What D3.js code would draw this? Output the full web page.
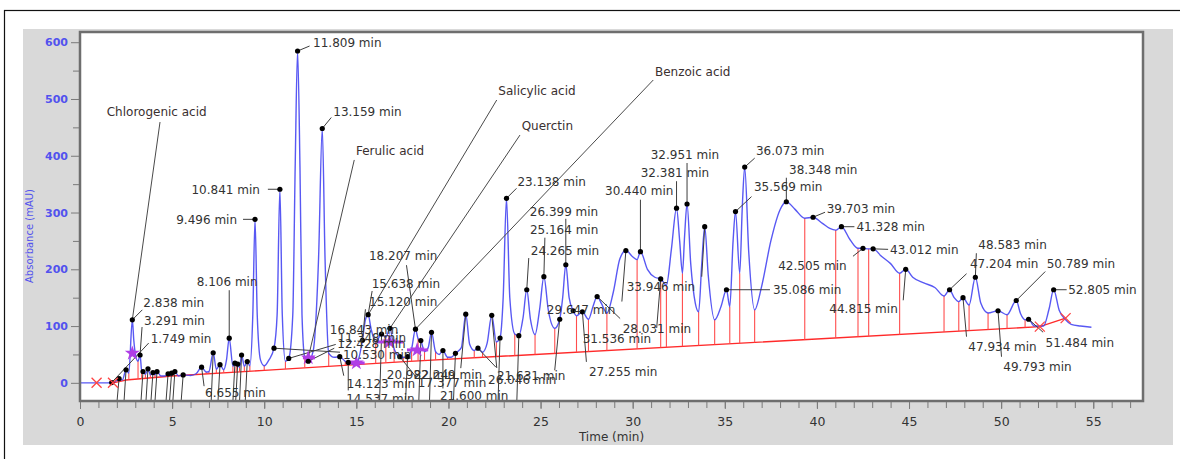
<!DOCTYPE html>
<html>
<head>
<meta charset="utf-8">
<script src="https://cdn.jsdelivr.net/npm/d3@7"></script>
<style>
  body { margin: 0; background: #fff; }
  svg text { font-family: "DejaVu Sans", sans-serif; }
</style>
</head>
<body>
<div id="chart"></div>
<script>
// ---- data: [time (min), absorbance (mAU)] ----
const trace = [
  [0,0],[1.5,0],[1.72,0.5],[1.9,2],[2.12,7.6],[2.3,5],[2.5,23],[2.65,17],[2.84,111],[2.92,75],[3.0,52],[3.15,38],
  [3.26,49],[3.35,21],[3.42,20],[3.55,15],[3.69,24.6],[3.82,14],[3.96,18],[4.07,14],[4.18,19.9],[4.4,12],[4.6,12],
  [4.78,15.8],[4.88,13],[4.97,17],[5.06,15],[5.15,20],[5.35,12],[5.6,14],[6.0,13],[6.3,16],[6.6,27.6],[6.85,19],
  [7.0,20],[7.23,53],[7.4,24],[7.6,32],[7.8,23],[7.95,40],[8.1,78.6],[8.3,29],[8.41,34.6],[8.48,30],[8.56,33],
  [8.66,27],[8.77,49],[8.92,29],[9.08,37.5],[9.22,30],[9.38,120],[9.5,288],[9.62,120],[9.8,40],[10.0,30],[10.25,40],
  [10.53,61],[10.7,120],[10.85,341],[10.98,120],[11.15,38],[11.33,43],[11.55,120],[11.68,380],[11.81,584.5],
  [11.94,380],[12.05,120],[12.2,45],[12.39,38],[12.65,55],[12.95,220],[13.15,448],[13.3,220],[13.5,52],[13.8,45],
  [14.1,46],[14.4,38],[14.56,36],[14.8,33],[15.0,32],[15.15,45],[15.33,75],[15.5,112],[15.64,120],[15.8,95],
  [16.05,72],[16.37,86],[16.6,80],[16.82,96],[17.05,60],[17.36,46],[17.55,45],[17.78,46],[18.0,60],[18.21,94.5],
  [18.35,78],[18.5,74.5],[18.7,55],[18.9,62],[19.08,89],[19.3,55],[19.5,50],[19.7,57],[19.95,45],[20.15,45],
  [20.38,52],[20.7,62],[20.94,121],[21.15,68],[21.4,57],[21.6,61],[21.85,54],[22.1,70],[22.35,119],[22.6,72],
  [22.8,79],[22.97,150],[23.15,325],[23.33,150],[23.6,86],[23.82,83],[24.05,115],[24.25,164],[24.45,112],[24.7,85],
  [24.95,130],[25.18,187],[25.42,128],[25.77,96],[26.04,112],[26.2,150],[26.37,208],[26.55,150],[26.77,127],
  [26.95,118],[27.27,125],[27.6,112],[27.85,135],[28.07,152],[28.3,140],[28.6,123],[28.95,160],[29.3,218],
  [29.63,233],[30.0,222],[30.24,217],[30.42,231],[30.8,200],[31.2,186],[31.52,183],[31.83,172],[32.1,235],
  [32.38,307.6],[32.55,250],[32.7,193],[32.82,260],[32.95,315],[33.15,210],[33.4,140],[33.58,125],[33.75,210],
  [33.91,275],[34.1,190],[34.45,111],[34.8,135],[35.09,164],[35.27,134],[35.45,250],[35.58,301.6],[35.81,193],
  [35.95,310],[36.08,380],[36.3,230],[36.62,128.5],[37.0,170],[37.5,250],[38.0,305],[38.34,319],[38.8,306],
  [39.34,290],[39.79,291.7],[40.3,281],[40.7,272],[41.02,269],[41.33,275],[41.8,252],[42.23,237],[42.5,237],
  [42.81,236],[43.05,236],[43.5,223],[44.0,210],[44.49,193],[44.82,200],[45.2,186],[45.8,176],[46.4,168],
  [46.9,153],[47.2,164],[47.45,150],[47.7,143],[47.93,150],[48.26,137],[48.6,186],[48.9,140],[49.29,123],
  [49.83,127],[50.32,120],[50.82,145],[51.05,122],[51.3,111],[51.49,112],[51.8,100],[52.3,100],[52.6,130],
  [52.85,164],[53.15,128],[53.5,111],[53.8,103],[54.3,100],[54.9,98]
];

// integration baseline (red) and the marks where it starts / ends
const baseline = [[1.79,0],[2.5,5],[5,12],[10,22],[17.4,37],[39,75.5],[52.1,99],[53.5,114]];
const baseMarks = [[0.9,0],[1.79,0],[52.1,99],[53.5,114]];

// times of the red drop lines (peak boundaries)
const dropTimes = [2.3,2.65,3.15,3.35,3.55,3.82,4.07,4.4,4.88,5.06,5.35,6.85,7.0,7.4,7.8,8.3,8.48,8.66,8.92,9.22,
  10.0,11.15,12.2,13.5,14.4,14.8,16.05,16.6,17.05,17.55,18.0,18.35,18.7,19.3,19.95,21.4,21.85,22.6,23.6,24.7,
  25.77,26.95,27.6,28.6,30.24,31.52,31.83,32.7,33.58,34.45,35.27,35.81,36.62,39.34,41.02,42.23,42.81,44.49,46.9,
  47.7,48.26,49.29,50.32,51.3];

// labelled peaks: [time, absorbance, label]
const peaks = [
  [1.72,0.5,"1.749 min"],[2.84,111,"2.838 min"],[3.26,49,"3.291 min"],[6.6,27.6,"6.655 min"],[8.1,78.6,"8.106 min"],
  [9.5,288,"9.496 min"],[10.53,61,"10.530 min"],[10.85,341,"10.841 min"],[11.33,43,"11.348 min"],
  [11.81,584.5,"11.809 min"],[12.39,38,"12.428 min"],[13.15,448,"13.159 min"],[14.1,46,"14.123 min"],
  [14.56,36,"14.537 min"],[15.33,75,"15.120 min"],[15.64,120,"15.638 min"],[16.82,96,"16.843 min"],
  [17.36,46,"17.377 min"],[18.21,94.5,"18.207 min"],[20.94,121,"20.982 min"],[19.7,57,"21.600 min"],
  [21.6,61,"21.631 min"],[22.35,119,"22.249 min"],[23.15,325,"23.138 min"],[24.25,164,"24.265 min"],
  [25.18,187,"25.164 min"],[26.04,112,"26.046 min"],[26.37,208,"26.399 min"],[27.27,125,"27.255 min"],
  [28.07,152,"28.031 min"],[29.63,233,"29.647 min"],[30.42,231,"30.440 min"],[31.52,183,"31.536 min"],
  [32.38,307.6,"32.381 min"],[32.95,315,"32.951 min"],[33.91,275,"33.946 min"],[35.09,164,"35.086 min"],
  [35.58,301.6,"35.569 min"],[36.08,380,"36.073 min"],[38.34,319,"38.348 min"],[39.79,291.7,"39.703 min"],
  [41.33,275,"41.328 min"],[42.5,237,"42.505 min"],[43.05,236,"43.012 min"],[44.82,200,"44.815 min"],
  [47.2,164,"47.204 min"],[47.93,150,"47.934 min"],[48.6,186,"48.583 min"],[49.83,127,"49.793 min"],
  [50.82,145,"50.789 min"],[51.49,112,"51.484 min"],[52.85,164,"52.805 min"]
];

// small peaks whose labels fall below the plot
const minorPeaks = [[2.12,7.6],[2.5,23],[3.42,20],[3.69,24.6],[3.96,18],[4.18,19.9],[4.78,15.8],[4.97,17],
  [5.15,20],[5.6,14],[7.23,53],[7.6,32],[8.41,34.6],[8.56,33],[8.77,49],[9.08,37.5],[16.37,86],[17.78,46],
  [18.5,74.5],[19.08,89],[20.38,52],[22.8,79],[23.82,83],[26.77,127]];

// identified compounds: [name, time, absorbance of the marked point]
const compounds = [
  ["Chlorogenic acid",2.84,111],["Ferulic acid",12.39,44],["Salicylic acid",15.64,120],
  ["Querctin",16.82,96],["Benzoic acid",18.21,94.5]
];

// purple identification markers: [time, absorbance, bar start, bar end]
const stars = [[2.84,52,2.84,2.84],[12.39,44,12.1,12.75],[15.0,35,14.7,15.45],[16.8,72,16.1,17.55],[18.3,58,17.75,18.9]];

const xMajor = d3.range(0, 56, 5);
const xMinor = d3.range(0, 58, 1);
const yMajor = d3.range(0, 601, 100);
const yMinor = d3.range(50, 600, 100);

// ---- label layout: [dx, dy, leader dx, leader dy, anchor] in px from the dot ----
const labelPos = {
  "1.749 min":[39,-43.5,37,-39.5],"2.838 min":[11,-17,10,-10],"3.291 min":[4,-34,2,-28],"6.655 min":[3.5,26,2.5,19],
  "8.106 min":[-32.5,-56,0,-48],"9.496 min":[-18,0.5,-12,0,"end"],"10.530 min":[69,7,66,4],
  "10.841 min":[-20,0.5,-12,0,"end"],"11.348 min":[49,-21,47,-14],"11.809 min":[15.5,-8.7,12,-5],
  "12.428 min":[29,-17,26,-13],"13.159 min":[11,-17,9,-11],"14.123 min":[7,26.6,4,19],"14.537 min":[-2,36,0,28],
  "15.120 min":[6.6,-38.6,3,-31],"15.638 min":[3.6,-30.7,4,-23.7],"16.843 min":[-60,1.7,0,0],
  "17.377 min":[18,26,16,20],"18.207 min":[-46.5,-73,-9,-64],"20.982 min":[-79,61,-5,54],"21.600 min":[-3,45.5,0,38],
  "21.631 min":[19,27.5,18,19],"22.249 min":[-78,60,5,52.7],"23.138 min":[11,-17,10,-10],
  "24.265 min":[4,-39,2,-31.7],"25.164 min":[-14,-46.7,1,-39],"26.046 min":[-71.7,60.7,-5,51],
  "26.399 min":[-36,-53,0,-46],"27.255 min":[6.6,59.8,4,50],"28.031 min":[25.6,32.5,23,22],
  "29.647 min":[-79,59.4,-4,51],"30.440 min":[-35.4,-61,0,-52],"31.536 min":[-78,60,-4,49],
  "32.381 min":[-35.8,-35.5,0,-27],"32.951 min":[-36.3,-49.7,0,-41],"33.946 min":[-78,60,-3,50],
  "35.086 min":[46.5,0.3,43.5,0],"35.569 min":[18.5,-24.6,16,-15],"36.073 min":[11.3,-16.4,10,-9],
  "38.348 min":[2.7,-32.4,0,-24],"39.703 min":[13.6,-8.9,12,-5],"41.328 min":[15,0,13,0],
  "42.505 min":[-16.3,17.4,-10,8,"end"],"43.012 min":[17,1,15,0.5],"44.815 min":[-76.4,40,-2.5,31],
  "47.204 min":[20.4,-26.4,17,-16],"47.934 min":[5.3,49,3.5,39],"48.583 min":[3,-32,1,-24],
  "49.793 min":[5.3,56,3.5,46],"50.789 min":[30.4,-36.5,29,-29],"51.484 min":[17,24,14.5,13],
  "52.805 min":[14.6,0.3,13,0]
};
// compound label layout: [dx, dy, leader start dx, leader start dy] from the marked point
const compoundPos = {
  "Chlorogenic acid":[-25.6,-208,27.7,-197.8],"Ferulic acid":[47.7,-206.9,46,-197.9],
  "Salicylic acid":[130.2,-224,128.6,-214.7],"Querctin":[131.8,-202.6,130.1,-193.3],
  "Benzoic acid":[239.5,-257.5,237.8,-249.2]
};

const width = 1180, height = 459;
const plot = {left: 80, right: 1143, top: 32, bottom: 401};

const svg = d3.select("#chart").append("svg")
  .attr("width", width)
  .attr("height", height);

// outer frame and grey panel
svg.append("rect").attr("x", 4.5).attr("y", 10.5).attr("width", 1200).attr("height", 480)
  .attr("fill", "#fff").attr("stroke", "#111").attr("stroke-width", 1.2);
svg.append("rect").attr("x", 23).attr("y", 29).attr("width", 1150).attr("height", 416).attr("fill", "#d9d9d9");
svg.append("rect").attr("x", plot.left).attr("y", plot.top)
  .attr("width", plot.right - plot.left).attr("height", plot.bottom - plot.top).attr("fill", "#fff");

const x = d3.scaleLinear().domain([0, 57.7]).range([plot.left, plot.right]);
const y = d3.scaleLinear().domain([-32, 618]).range([plot.bottom, plot.top]);
const base = d3.scaleLinear().domain(baseline.map(d => d[0])).range(baseline.map(d => d[1]));

svg.append("clipPath").attr("id", "clip").append("rect")
  .attr("x", plot.left + 1).attr("y", plot.top + 1)
  .attr("width", plot.right - plot.left - 2).attr("height", plot.bottom - plot.top - 2);

const g = svg.append("g").attr("clip-path", "url(#clip)");

// baseline + drop lines
g.append("path").datum(baseline)
  .attr("d", d3.line().x(d => x(d[0])).y(d => y(d[1])))
  .attr("fill", "none").attr("stroke", "#ff2a2a").attr("stroke-width", 1.4);

g.selectAll(".drop").data(dropTimes).enter().append("line")
  .attr("class", "drop")
  .attr("x1", t => x(t)).attr("x2", t => x(t))
  .attr("y1", t => y(trace.find(d => d[0] === t)[1]))
  .attr("y2", t => y(base(t)))
  .attr("stroke", "#ff4d4d").attr("stroke-width", 1.1);

// chromatogram trace
g.append("path").datum(trace)
  .attr("d", d3.line().x(d => x(d[0])).y(d => y(d[1])).curve(d3.curveMonotoneX))
  .attr("fill", "none").attr("stroke", "#4646f2").attr("stroke-width", 1.4).attr("stroke-opacity", 0.9);

// leader lines
const leaderColor = "#3d3d3d";
g.selectAll(".minor-leader").data(minorPeaks.filter(d => d[0] < 24)).enter().append("line")
  .attr("x1", d => x(d[0])).attr("y1", d => y(d[1]))
  .attr("x2", d => x(d[0]) - 2).attr("y2", plot.bottom)
  .attr("stroke", leaderColor).attr("stroke-width", 1);

g.selectAll(".leader").data(peaks).enter().append("line")
  .attr("x1", d => x(d[0])).attr("y1", d => y(d[1]))
  .attr("x2", d => x(d[0]) + labelPos[d[2]][2]).attr("y2", d => y(d[1]) + labelPos[d[2]][3])
  .attr("stroke", leaderColor).attr("stroke-width", 1);

g.selectAll(".c-leader").data(compounds).enter().append("line")
  .attr("x1", d => x(d[1])).attr("y1", d => y(d[2]))
  .attr("x2", d => x(d[1]) + compoundPos[d[0]][2]).attr("y2", d => y(d[2]) + compoundPos[d[0]][3])
  .attr("stroke", "#4a4a4a").attr("stroke-width", 1);

// purple identification markers
g.selectAll(".bar").data(stars.filter(d => d[3] > d[2])).enter().append("line")
  .attr("x1", d => x(d[2])).attr("x2", d => x(d[3]))
  .attr("y1", d => y(d[1])).attr("y2", d => y(d[1]))
  .attr("stroke", "#b03ee6").attr("stroke-width", 3);
g.selectAll(".star").data(stars).enter().append("path")
  .attr("transform", d => `translate(${x(d[0])},${y(d[1])})`)
  .attr("d", d3.symbol().type(d3.symbolStar).size(70))
  .attr("fill", "#b03ee6");

// dots
g.selectAll(".dot").data(peaks.concat(minorPeaks)).enter().append("circle")
  .attr("cx", d => x(d[0])).attr("cy", d => y(d[1])).attr("r", 2.6).attr("fill", "#000");

// red crosses at the baseline ends
const crossSize = 5;
g.selectAll(".cross").data(baseMarks).enter().append("path")
  .attr("d", d => {
    const cx = x(d[0]), cy = y(d[1]);
    return `M${cx - crossSize},${cy - crossSize}L${cx + crossSize},${cy + crossSize}` +
           `M${cx - crossSize},${cy + crossSize}L${cx + crossSize},${cy - crossSize}`;
  })
  .attr("stroke", "#ff4444").attr("stroke-width", 1.3).attr("fill", "none");

// peak labels
g.selectAll(".plabel").data(peaks).enter().append("text")
  .attr("x", d => x(d[0]) + labelPos[d[2]][0])
  .attr("y", d => y(d[1]) + labelPos[d[2]][1])
  .attr("dy", "0.35em")
  .attr("text-anchor", d => labelPos[d[2]][4] || "start")
  .attr("font-size", "12px").attr("fill", "#333")
  .text(d => d[2]);

g.selectAll(".clabel").data(compounds).enter().append("text")
  .attr("x", d => x(d[1]) + compoundPos[d[0]][0])
  .attr("y", d => y(d[2]) + compoundPos[d[0]][1])
  .attr("dy", "0.35em")
  .attr("font-size", "12px").attr("fill", "#3a3030")
  .text(d => d[0]);

// plot frame
svg.append("rect").attr("x", plot.left).attr("y", plot.top)
  .attr("width", plot.right - plot.left).attr("height", plot.bottom - plot.top)
  .attr("fill", "none").attr("stroke", "#6e6e6e").attr("stroke-width", 2.5);

// x axis
const xMinorAxis = svg.append("g").attr("transform", `translate(0,${plot.bottom + 1})`)
  .call(d3.axisBottom(x).tickValues(xMinor).tickSize(6).tickSizeOuter(0).tickFormat(""));
const xMajorAxis = svg.append("g").attr("transform", `translate(0,${plot.bottom + 1})`)
  .call(d3.axisBottom(x).tickValues(xMajor).tickSize(7).tickSizeOuter(0).tickPadding(8));
[xMinorAxis, xMajorAxis].forEach(a => {
  a.select(".domain").remove();
  a.selectAll("line").attr("stroke", "#7a7a7a");
});
xMajorAxis.selectAll("text").attr("font-size", "12.5px").attr("fill", "#333")
  .attr("font-family", "DejaVu Sans, sans-serif");

// y axis
const yMinorAxis = svg.append("g").attr("transform", `translate(${plot.left - 1},0)`)
  .call(d3.axisLeft(y).tickValues(yMinor).tickSize(6).tickSizeOuter(0).tickFormat(""));
const yMajorAxis = svg.append("g").attr("transform", `translate(${plot.left - 1},0)`)
  .call(d3.axisLeft(y).tickValues(yMajor).tickSize(8).tickSizeOuter(0).tickPadding(3));
[yMinorAxis, yMajorAxis].forEach(a => {
  a.select(".domain").remove();
  a.selectAll("line").attr("stroke", "#7a7a7a");
});
yMajorAxis.selectAll("text").attr("font-size", "11px").attr("font-weight", "bold").attr("fill", "#5252ee")
  .attr("font-family", "DejaVu Sans, sans-serif");

// axis titles
svg.append("text")
  .attr("x", (plot.left + plot.right) / 2).attr("y", 437)
  .attr("text-anchor", "middle").attr("dy", "0.35em")
  .attr("font-size", "12px").attr("fill", "#333")
  .text("Time (min)");

svg.append("text")
  .attr("transform", "rotate(-90)")
  .attr("x", -236).attr("y", 29)
  .attr("text-anchor", "middle").attr("dy", "0.35em")
  .attr("font-size", "10px").attr("fill", "#5252ee")
  .text("Absorbance (mAU)");
</script>
</body>
</html>
